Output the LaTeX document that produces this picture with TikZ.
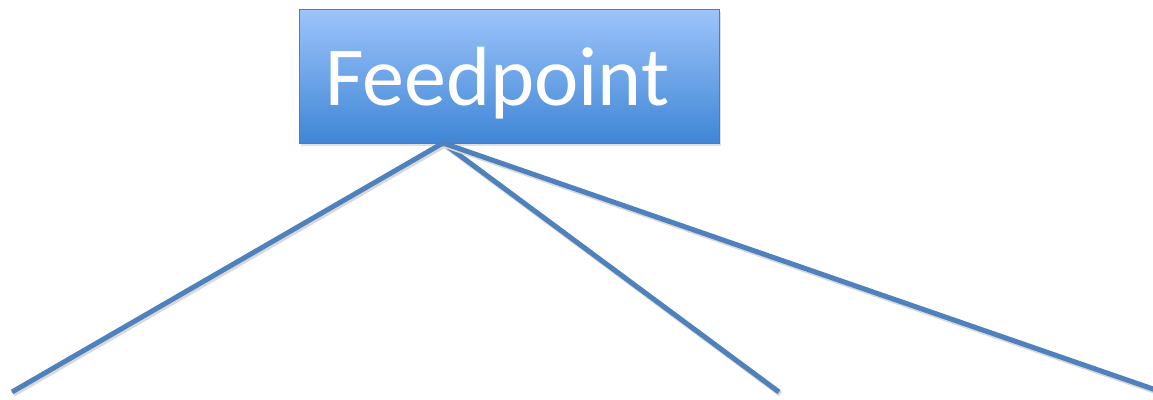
\documentclass[tikz,border=0pt]{standalone}
\usepackage{fontspec}
\setsansfont{Carlito}
\usetikzlibrary{shadows}
\definecolor{boxtop}{HTML}{9DC4FB}
\definecolor{boxbottom}{HTML}{3F86D5}
\definecolor{boxline}{HTML}{4A7EBB}
\definecolor{wireblue}{HTML}{4F81BD}
\tikzset{
    feedbox/.style = {draw=boxline, line width=0.8pt,
                      top color=boxtop, bottom color=boxbottom,
                      minimum width=420pt, minimum height=134pt,
                      inner sep=0pt, outer sep=0pt,
                      text=white, font=\sffamily\fontsize{84}{84}\selectfont,
                      drop shadow={shadow xshift=1.5pt, shadow yshift=-3pt,
                                   opacity=0.25, fill=black!50}},
    wire/.style    = {draw=wireblue, line width=5pt,
                      preaction={draw=black!15, line width=5.5pt,
                                 transform canvas={xshift=1.5pt, yshift=-2pt}}},
}
\begin{document}
\begin{tikzpicture}[x=1pt, y=-1pt]
    % page frame
    \useasboundingbox (0,0) rectangle (1153,399);
    % the feed box
    \node[feedbox] (feed) at (509,76)
        {\raisebox{-29pt}[0pt][0pt]{\makebox[368pt][l]{Feedpoint}}};
    % wires from the feed point
    \coordinate (fp) at (443,143);
    \coordinate (endA) at (12,392);
    \coordinate (endB) at (779,392);
    \coordinate (endC) at (1156,390);
    \foreach \e in {endA,endB,endC} {
        \draw[wire] (fp) -- (\e);
    }
\end{tikzpicture}
\end{document}
